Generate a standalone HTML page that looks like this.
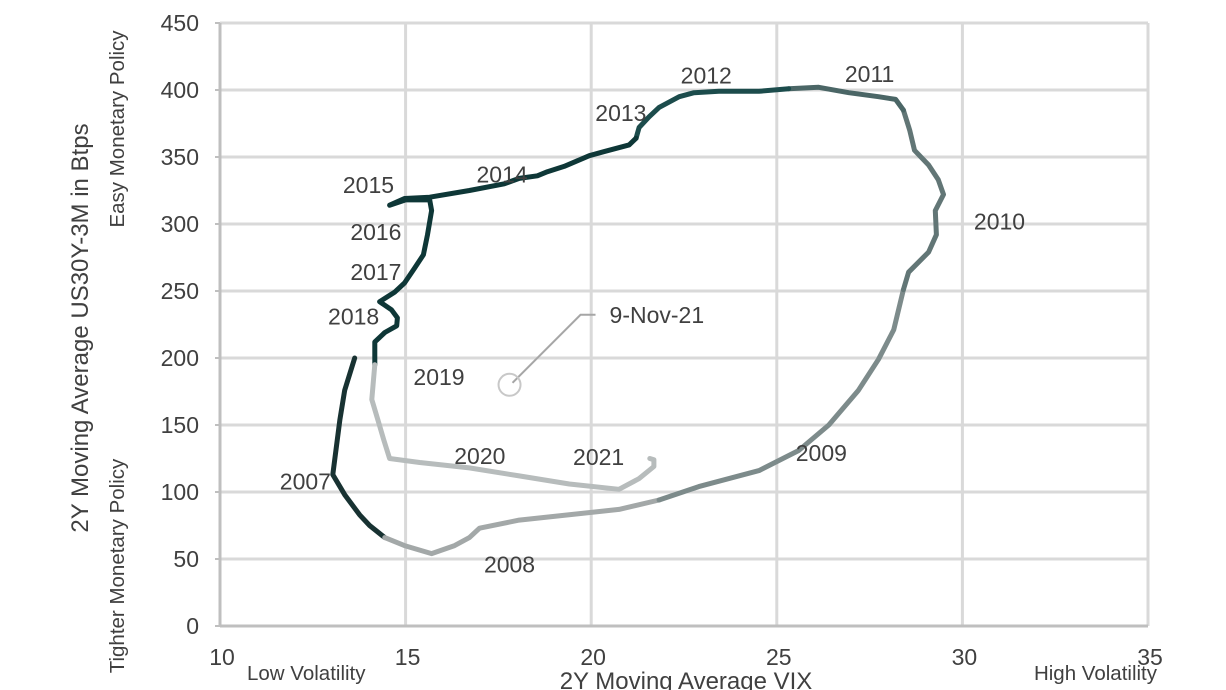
<!DOCTYPE html>
<html><head><meta charset="utf-8"><style>
html,body{margin:0;padding:0;background:#fff;}
svg{display:block;font-family:"Liberation Sans",Arial,sans-serif;}
</style></head><body>
<svg id="chart" width="1226" height="690" viewBox="0 0 1226 690">
<g id="grid"></g>
<g id="axes"></g>
<g id="series"></g>
<g id="labels"></g>
<g>
  <polyline id="leader" fill="none" stroke="#a6a6a6" stroke-width="2"/>
  <circle id="marker" r="11" fill="none" stroke="#c8c8c8" stroke-width="2"/>
  <text id="annText" font-size="23" fill="#404040">9-Nov-21</text>
</g>
<text x="686" y="689" font-size="24" fill="#404040" text-anchor="middle">2Y Moving Average VIX</text>
<text x="247" y="680" font-size="20.5" fill="#404040">Low Volatility</text>
<text x="1157" y="680" font-size="20.5" fill="#404040" text-anchor="end">High Volatility</text>
<text transform="translate(88,328) rotate(-90)" font-size="24" fill="#404040" text-anchor="middle">2Y Moving Average US30Y-3M in Btps</text>
<text transform="translate(124,129) rotate(-90)" font-size="20.5" fill="#404040" text-anchor="middle">Easy Monetary Policy</text>
<text transform="translate(124,566) rotate(-90)" font-size="20.5" fill="#404040" text-anchor="middle">Tighter Monetary Policy</text>
</svg>
<script>
const xTicks=[10,15,20,25,30,35];
const yTicks=[0,50,100,150,200,250,300,350,400,450];
const segYears=["2007","2008","2009","2010","2011","2012","2013-2018","2019-2021"];
const segColors=["#183232","#a3a8a8","#7d8b8b","#627676","#4b6666","#1c4c4c","#0e3737","#b7bcbc"];
const segX=[
 [13.63,13.36,13.23,13.09,13.04,13.36,13.76,14.03,14.44],
 [14.44,14.97,15.70,16.32,16.72,16.99,18.06,20.75,21.83],
 [21.83,22.90,24.52,25.59,26.40,27.20,27.74,28.15,28.41],
 [28.41,28.55,29.09,29.30,29.27,29.49,29.35,29.09,28.71,28.58,28.41],
 [28.41,28.20,27.74,26.94,26.13,25.32],
 [25.32,24.52,23.44,22.77,22.37,21.83,21.56,21.29,21.21],
 [21.21,21.02,20.35,19.95,19.27,18.82,18.55,18.06,17.66,16.72,15.65,14.97,14.57,15.0,15.65,15.70,15.59,15.48,15.24,14.97,14.70,14.30,14.62,14.78,14.76,14.44,14.17,14.17,14.17],
 [14.17,14.09,14.25,14.41,14.57,15.38,16.72,18.06,19.41,20.75,21.29,21.69,21.69,21.58]
];
const segY=[
 [200,176,154,124,113,98,83,75,66],
 [66,60,54,60,66,73,79,87,94],
 [94,104,116,131,150,176,199,221,251],
 [251,264,279,292,310,322,333,344,355,370,385],
 [385,393,395,398,402,401],
 [401,399,399,398,395,387,380,372,364],
 [364,359,354,351,343,339,336,334,330,325,320,319,314,318,318,310,292,277,267,256,249,242,236,230,224,219,212,204,195],
 [195,169,154,139,125,122,118,112,106,102,110,119,124,125]
];
const labelText=["2015","2014","2013","2012","2011","2010","2016","2017","2018","2019","2020","2021","2007","2008","2009"];
const labelX=[14.0,17.6,20.8,23.1,27.5,31.0,14.2,14.2,13.6,15.9,17.0,20.2,12.3,17.8,26.2];
const labelY=[329,337,383,411,412,302,294,264,231,186,127,126,108,46,129];
const annPoint=[17.8,180];

const NS="http://www.w3.org/2000/svg";
const X0=220,X1=1148,Y0=626,Y1=23;
function sx(v){return X0+(v-10)/25*(X1-X0);}
function sy(v){return Y0-v/450*(Y0-Y1);}
function mk(tag,attrs,parent){const e=document.createElementNS(NS,tag);for(const k in attrs)e.setAttribute(k,attrs[k]);parent.appendChild(e);return e;}
const grid=document.getElementById('grid'),axes=document.getElementById('axes'),series=document.getElementById('series'),labels=document.getElementById('labels');
yTicks.forEach(t=>{
 if(t>0){const l=mk('line',{x1:X0,x2:X1,y1:sy(t),y2:sy(t),stroke:'#d9d9d9','stroke-width':3},grid);
 
 }
 const tk=mk('line',{x1:X0-5,x2:X0,y1:sy(t),y2:sy(t),stroke:'#bfbfbf','stroke-width':2},axes);
 
 
 const tx=mk('text',{x:199,y:sy(t)+8,'font-size':23,fill:'#404040','text-anchor':'end'},axes);
 tx.textContent=t;
 
 
});
xTicks.forEach(t=>{
 if(t>10){const l=mk('line',{x1:sx(t),x2:sx(t),y1:Y1,y2:Y0,stroke:'#d9d9d9','stroke-width':3},grid);
 
 }
 const tx=mk('text',{x:sx(t)+2,y:665,'font-size':23,fill:'#404040','text-anchor':'middle'},axes);
 tx.textContent=t;
 
 
});
const ya=mk('line',{x1:X0,x2:X0,y1:Y1,y2:Y0,stroke:'#bfbfbf','stroke-width':3},axes);


const xa=mk('line',{x1:X0,x2:X1,y1:Y0,y2:Y0,stroke:'#bfbfbf','stroke-width':3},axes);


segX.forEach((xs,i)=>{
 const pts=xs.map((v,j)=>sx(v).toFixed(1)+','+sy(segY[i][j]).toFixed(1)).join(' ');
 const p=mk('polyline',{points:pts,fill:'none',stroke:segColors[i],'stroke-width':5,'stroke-linejoin':'round','stroke-linecap':'round'},series);
 
 
});
labelText.forEach((t,i)=>{
 const tx=mk('text',{x:sx(labelX[i]),y:sy(labelY[i])+8,'font-size':23,fill:'#404040','text-anchor':'middle'},labels);
 tx.textContent=t;
 
 
});
const cx=sx(annPoint[0]),cy=sy(annPoint[1]);
const m=document.getElementById('marker');m.setAttribute('cx',cx);m.setAttribute('cy',cy);
document.getElementById('leader').setAttribute('points',(cx+3)+','+(cy-2)+' '+(cx+71)+','+(cy-70)+' '+(cx+86)+','+(cy-70));
const at=document.getElementById('annText');at.setAttribute('x',cx+100);at.setAttribute('y',cy-62);
</script>
</body></html>
